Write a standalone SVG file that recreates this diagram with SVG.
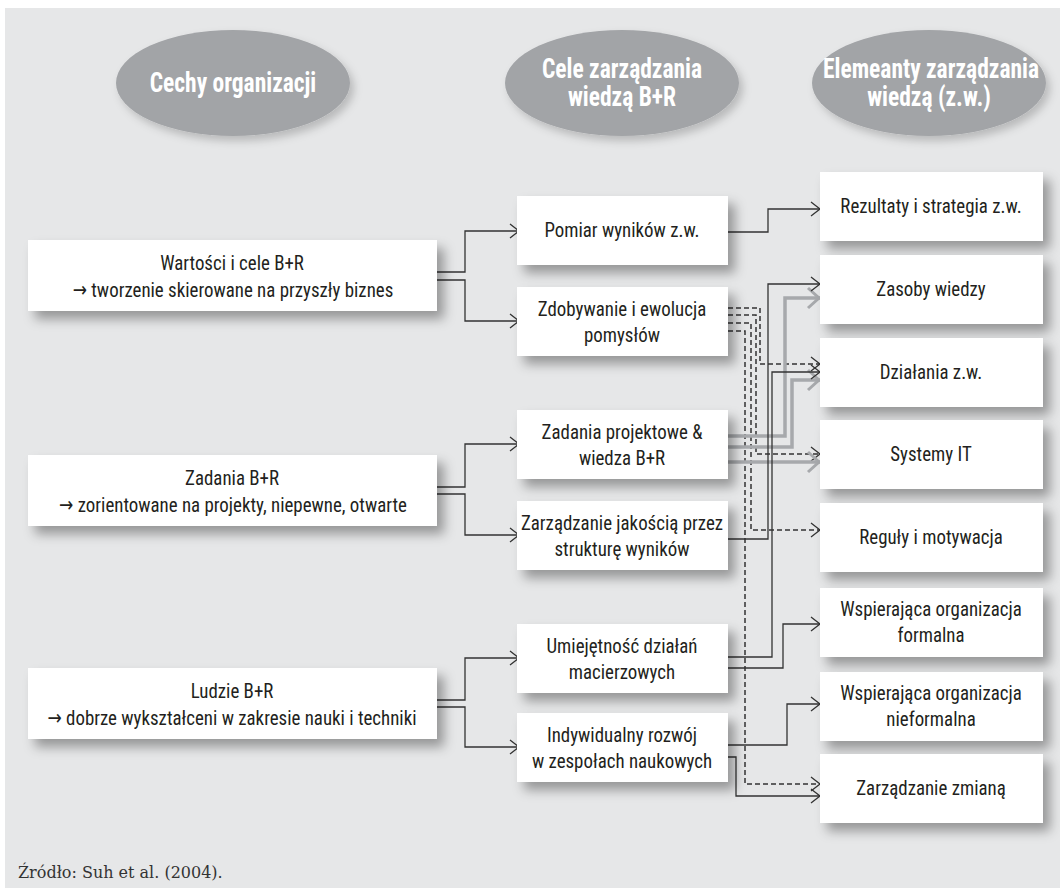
<svg xmlns="http://www.w3.org/2000/svg" width="1060" height="894" viewBox="0 0 1060 894">
  <defs>
    <filter id="shadow" x="-10%" y="-20%" width="130%" height="160%">
      <feDropShadow dx="7" dy="8" stdDeviation="6" flood-color="#000" flood-opacity="0.35"/>
    </filter>
    <filter id="oshadow" x="-10%" y="-10%" width="130%" height="140%">
      <feDropShadow dx="4" dy="5" stdDeviation="4" flood-color="#000" flood-opacity="0.2"/>
    </filter>
    <marker id="arr" markerUnits="userSpaceOnUse" viewBox="-12 -9 14 18" refX="0" refY="0" markerWidth="14" markerHeight="18" orient="auto">
      <path d="M-9,-7 L0,0 L-9,7" fill="none" stroke="#333" stroke-width="1.3"/>
    </marker>
    <marker id="arrg" markerUnits="userSpaceOnUse" viewBox="-16 -12 18 24" refX="0" refY="0" markerWidth="18" markerHeight="24" orient="auto">
      <path d="M-12,-10 L-1,0 L-12,10" fill="none" stroke="#a7a9ac" stroke-width="3"/>
    </marker>
  </defs>
  <style>
    .box { fill: #ffffff; filter: url(#shadow); }
    .oval { fill: #a2a4a7; filter: url(#oshadow); }
    .t, .h { font-family: "Liberation Sans Narrow", "Roboto Condensed", "DejaVu Sans Condensed", "Liberation Sans", sans-serif; font-stretch: condensed; text-anchor: middle; transform-box: fill-box; transform-origin: center; }
    .t { font-size: 21px; fill: #231f20; transform: scaleX(0.9); }
    .h { font-weight: bold; font-size: 27px; fill: #ffffff; transform: scaleX(0.87); }
    .src { font-family: "DejaVu Serif", "Liberation Serif", serif; font-size: 16px; fill: #333333; }
    .ln { fill: none; stroke: #333; stroke-width: 1.3; marker-end: url(#arr); }
    .dl { fill: none; stroke: #333; stroke-width: 1.5; stroke-dasharray: 5 3; marker-end: url(#arr); }
    .gl { fill: none; stroke: #a7a9ac; stroke-width: 3.5; marker-end: url(#arrg); }
  </style>

  <!-- background panel -->
  <rect x="5" y="8" width="1055" height="880" fill="#e6e7e8"/>

  <!-- column headings -->
  <g id="head-cechy">
    <ellipse class="oval" cx="233" cy="83" rx="117" ry="53"/>
    <text class="h" x="233" y="92">Cechy organizacji</text>
  </g>
  <g id="head-cele">
    <ellipse class="oval" cx="622" cy="83" rx="117" ry="53"/>
    <text class="h" x="622" y="78">Cele zarządzania</text>
    <text class="h" x="622" y="106">wiedzą B+R</text>
  </g>
  <g id="head-elementy">
    <ellipse class="oval" cx="929" cy="83" rx="117" ry="53"/>
    <text class="h" x="931" y="78">Elemeanty zarządzania</text>
    <text class="h" x="929" y="106">wiedzą (z.w.)</text>
  </g>

  <!-- connectors -->
  <g id="connectors">
    <!-- organisation features to KM goals -->
    <polyline class="ln" points="437,272 465,272 465,231 519,231"/>
    <polyline class="ln" points="437,280 465,280 465,321 519,321"/>
    <polyline class="ln" points="437,487 465,487 465,444 519,444"/>
    <polyline class="ln" points="437,494 465,494 465,535 519,535"/>
    <polyline class="ln" points="437,700 465,700 465,658 519,658"/>
    <polyline class="ln" points="437,707 465,707 465,747 519,747"/>

    <!-- KM goals to KM elements -->
    <polyline class="ln" points="728,232 768,232 768,209 820,209"/>
    <polyline class="dl" points="728,308 760,308 760,364 820,364"/>
    <polyline class="dl" points="728,315 756,315 756,454 820,454"/>
    <polyline class="dl" points="728,323 751,323 751,530 820,530"/>
    <polyline class="dl" points="728,331 745,331 745,784 820,784"/>
    <polyline class="gl" points="728,436 785,436 785,298 820,298"/>
    <polyline class="gl" points="728,447 792,447 792,380 820,380"/>
    <polyline class="gl" points="728,462 820,462"/>
    <polyline class="ln" points="728,539 768,539 768,284 820,284"/>
    <polyline class="ln" points="728,657 772,657 772,372 820,372"/>
    <polyline class="ln" points="728,668 783,668 783,624 820,624"/>
    <polyline class="ln" points="728,745 787,745 787,704 820,704"/>
    <polyline class="ln" points="728,757 736,757 736,796 820,796"/>
  </g>

  <!-- column 1 -->
  <g id="wartosci">
    <rect class="box" x="28" y="240" width="409" height="71"/>
    <text class="t" x="232" y="270">Wartości i cele B+R</text>
    <text class="t" x="233" y="297">→ tworzenie skierowane na przyszły biznes</text>
  </g>
  <g id="zadania">
    <rect class="box" x="28" y="455" width="409" height="71"/>
    <text class="t" x="232" y="485">Zadania B+R</text>
    <text class="t" x="233" y="512">→ zorientowane na projekty, niepewne, otwarte</text>
  </g>
  <g id="ludzie">
    <rect class="box" x="28" y="668" width="409" height="71"/>
    <text class="t" x="232" y="698">Ludzie B+R</text>
    <text class="t" x="232" y="725">→ dobrze wykształceni w zakresie nauki i techniki</text>
  </g>

  <!-- column 2 -->
  <g id="pomiar">
    <rect class="box" x="517" y="196" width="211" height="69"/>
    <text class="t" x="622" y="237">Pomiar wyników z.w.</text>
  </g>
  <g id="zdobywanie">
    <rect class="box" x="517" y="287" width="211" height="69"/>
    <text class="t" x="622" y="316">Zdobywanie i ewolucja</text>
    <text class="t" x="622" y="342">pomysłów</text>
  </g>
  <g id="projektowe">
    <rect class="box" x="517" y="410" width="211" height="69"/>
    <text class="t" x="622" y="439">Zadania projektowe &amp;</text>
    <text class="t" x="622" y="465">wiedza B+R</text>
  </g>
  <g id="jakosc">
    <rect class="box" x="517" y="501" width="211" height="69"/>
    <text class="t" x="622" y="530">Zarządzanie jakością przez</text>
    <text class="t" x="622" y="556">strukturę wyników</text>
  </g>
  <g id="umiejetnosc">
    <rect class="box" x="517" y="624" width="211" height="69"/>
    <text class="t" x="622" y="653">Umiejętność działań</text>
    <text class="t" x="622" y="679">macierzowych</text>
  </g>
  <g id="rozwoj">
    <rect class="box" x="517" y="713" width="211" height="69"/>
    <text class="t" x="622" y="742">Indywidualny rozwój</text>
    <text class="t" x="622" y="768">w zespołach naukowych</text>
  </g>

  <!-- column 3 -->
  <g id="rezultaty">
    <rect class="box" x="820" y="172" width="223" height="69"/>
    <text class="t" x="931" y="213">Rezultaty i strategia z.w.</text>
  </g>
  <g id="zasoby">
    <rect class="box" x="820" y="255" width="223" height="69"/>
    <text class="t" x="931" y="296">Zasoby wiedzy</text>
  </g>
  <g id="dzialania">
    <rect class="box" x="820" y="338" width="223" height="69"/>
    <text class="t" x="931" y="379">Działania z.w.</text>
  </g>
  <g id="systemy">
    <rect class="box" x="820" y="420" width="223" height="69"/>
    <text class="t" x="931" y="461">Systemy IT</text>
  </g>
  <g id="reguly">
    <rect class="box" x="820" y="503" width="223" height="69"/>
    <text class="t" x="931" y="544">Reguły i motywacja</text>
  </g>
  <g id="formalna">
    <rect class="box" x="820" y="588" width="223" height="69"/>
    <text class="t" x="931" y="616">Wspierająca organizacja</text>
    <text class="t" x="931" y="642">formalna</text>
  </g>
  <g id="nieformalna">
    <rect class="box" x="820" y="672" width="223" height="69"/>
    <text class="t" x="931" y="700">Wspierająca organizacja</text>
    <text class="t" x="931" y="726">nieformalna</text>
  </g>
  <g id="zmiana">
    <rect class="box" x="820" y="754" width="223" height="69"/>
    <text class="t" x="931" y="795">Zarządzanie zmianą</text>
  </g>

  <!-- source note -->
  <text class="src" x="18" y="878">Źródło: Suh et al. (2004).</text>
</svg>
